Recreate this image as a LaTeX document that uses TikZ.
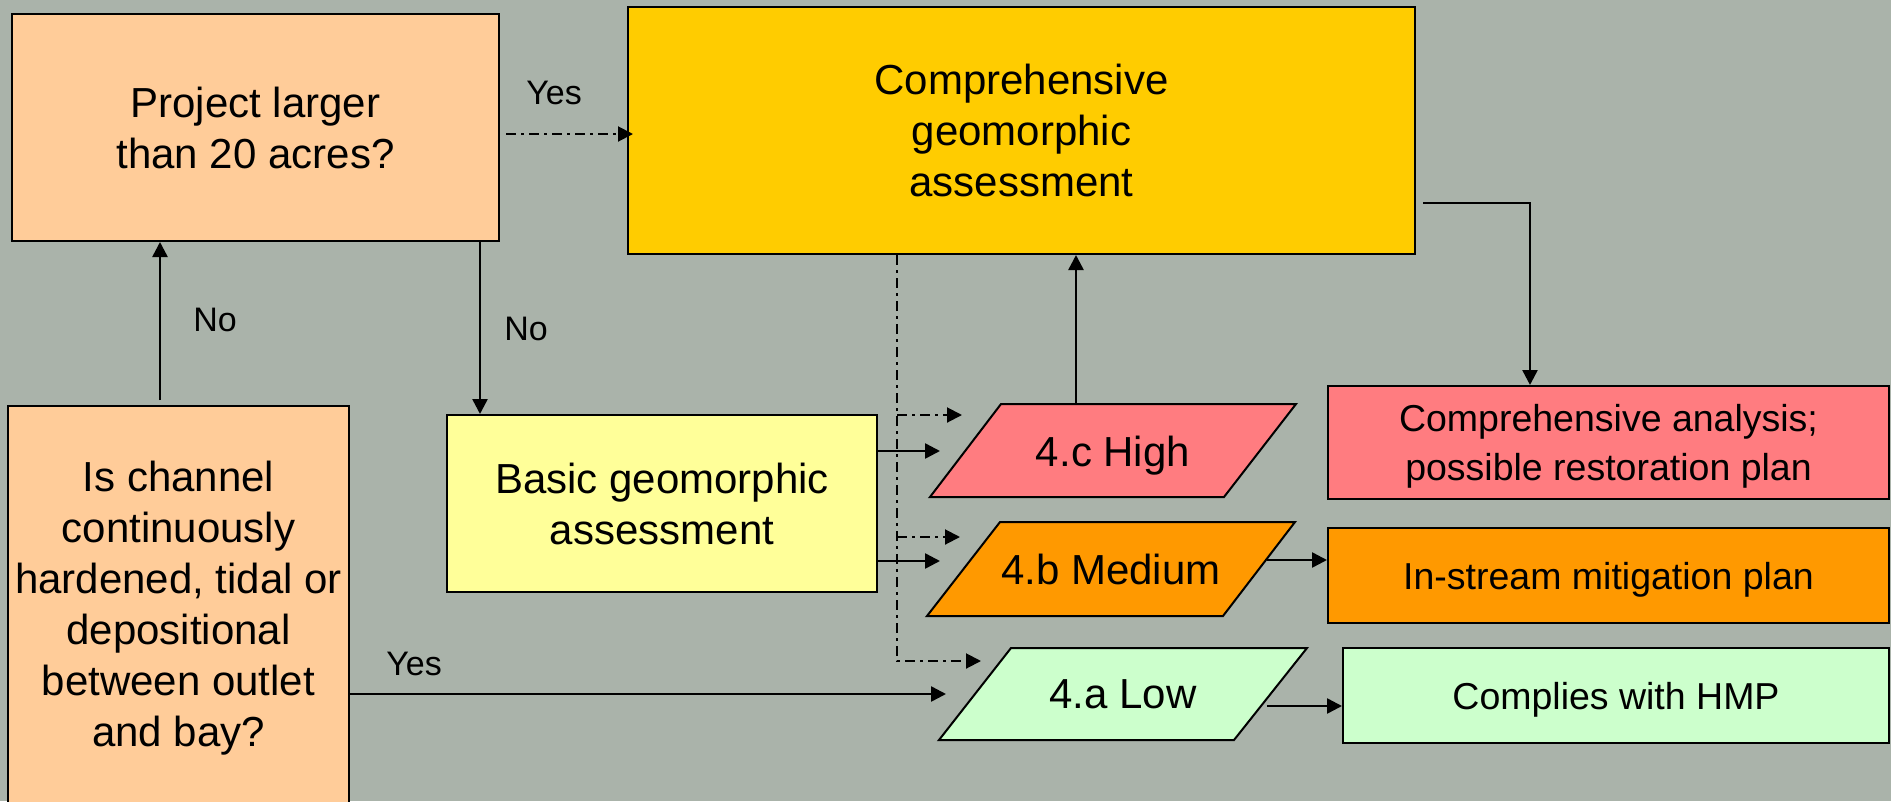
\documentclass[tikz,border=0pt]{standalone}
\usepackage{fontspec}
\setmainfont{Liberation Sans}
\usetikzlibrary{arrows.meta,calc}
\definecolor{bgc}{HTML}{AAB3AA}
\definecolor{peach}{HTML}{FFCC99}
\definecolor{gold}{HTML}{FFCC00}
\definecolor{lyellow}{HTML}{FFFF99}
\definecolor{salmon}{HTML}{FF7C80}
\definecolor{orng}{HTML}{FF9900}
\definecolor{mint}{HTML}{CCFFCC}
\newcommand\fbig{\fontsize{42}{51}\selectfont}
\newcommand\fmid{\fontsize{37.5}{49}\selectfont}
\newcommand\flbl{\fontsize{34}{40}\selectfont}
\begin{document}
\begin{tikzpicture}[x=1pt,y=-1pt,
  box/.style={draw=black,line width=2pt,inner sep=0pt,align=center,font=\fbig},
  sbox/.style={box,font=\fmid,text depth=0pt},
  para/.style={draw=black,line width=2pt},
  ptxt/.style={inner sep=0pt,align=center,font=\fbig,text depth=0pt},
  lbl/.style={inner sep=0pt,font=\flbl},
  arr/.style={line width=2.5pt,-{Triangle[length=15pt,width=15pt]}},
  dda/.style={line width=2pt,dash pattern=on 10pt off 5pt on 3pt off 5pt,-{Triangle[length=15pt,width=15pt]}}]
\useasboundingbox (0,0) rectangle (1891,801);
\fill[bgc] (0,0) rectangle (1891,801);

% rectangles
\node[box,fill=peach,minimum width=487pt,minimum height=227pt] (proj) at (255.5,127.5) {Project larger\\than 20 acres?};
\node[box,fill=gold,minimum width=787pt,minimum height=247pt] (comp) at (1021.5,130.5) {Comprehensive\\geomorphic\\assessment};
\node[box,fill=peach,minimum width=341pt,minimum height=404pt] (chan) at (178.5,608) {Is channel\\continuously\\hardened, tidal or\\depositional\\between outlet\\and bay?};
\node[box,fill=lyellow,minimum width=430pt,minimum height=177pt] (basic) at (662,503.5) {Basic geomorphic\\assessment};
\node[sbox,fill=salmon,minimum width=561pt,minimum height=113pt] (ana) at (1608.5,442.5) {Comprehensive analysis;\\possible restoration plan};
\node[sbox,fill=orng,minimum width=561pt,minimum height=95pt] (ins) at (1608.5,575.5) {In-stream mitigation plan};
\node[sbox,fill=mint,minimum width=546pt,minimum height=95pt] (hmp) at (1616,695.5) {Complies with HMP};

% parallelograms
\draw[para,fill=salmon] (1001,404) -- (1296,404) -- (1224,497) -- (930,497) -- cycle;
\node[ptxt] (high) at (1113,451) {4.c High};
\draw[para,fill=orng] (1000,522) -- (1295,522) -- (1223,616) -- (927,616) -- cycle;
\node[ptxt] (med) at (1111,569) {4.b Medium};
\draw[para,fill=mint] (1011,648) -- (1307,648) -- (1234,740) -- (939,740) -- cycle;
\node[ptxt] (low) at (1123,694) {4.a Low};

% attachment coordinates
\coordinate (high-top) at (1076,404);
\coordinate (high-in) at (940,451);
\coordinate (high-dd) at (962,415);
\coordinate (med-in) at (940,561);
\coordinate (med-dd) at (960,537);
\coordinate (med-out) at (1267,560);
\coordinate (low-in) at (946,694);
\coordinate (low-dd) at (981,661);
\coordinate (low-out) at (1267,706);
\coordinate (comp-out) at (1423,203);
\coordinate (corner) at (1530,203);

% connectors
\draw[dda] ([shift={(6,6.5)}]proj.east) -- ([shift={(6,6.5)}]proj.east -| comp.west);
\node[lbl] (yes1) at (554,93) {Yes};

\draw[arr] ([xshift=-18.5pt,yshift=5pt]chan.north) coordinate (c1) -- (c1 |- proj.south);
\node[lbl] (no1) at (215,320) {No};

\draw[arr] ([xshift=224.5pt]proj.south) coordinate (c2) -- (c2 |- basic.north);
\node[lbl] (no2) at (526,329) {No};

\draw[arr] (chan.east |- low-in) -- (low-in);
\node[lbl] (yes2) at (414,664) {Yes};

\draw[arr] (basic.east |- high-in) -- (high-in);
\draw[arr] (basic.east |- med-in) -- (med-in);

\draw[arr] (high-top) -- (high-top |- comp.south);

\coordinate (dtop) at ([xshift=-124.5pt]comp.south);
\draw[dda] (dtop) |- (low-dd);
\draw[dda] (dtop |- high-dd) -- (high-dd);
\draw[dda] (dtop |- med-dd) -- (med-dd);

\draw[arr] (comp-out) -- (corner) -- (corner |- ana.north);
\draw[arr] (med-out) -- (med-out -| ins.west);
\draw[arr] (low-out) -- (low-out -| hmp.west);
\end{tikzpicture}
\end{document}
